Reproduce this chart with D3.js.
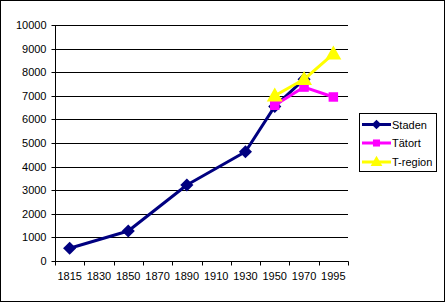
<!DOCTYPE html>
<html><head><meta charset="utf-8">
<script src="https://cdn.jsdelivr.net/npm/d3@7"></script>
<style>body{margin:0;background:#fff}svg{display:block}text{font-family:"Liberation Sans",Arial,sans-serif;fill:#000}</style>
</head><body><svg id="c" width="446" height="303"></svg>
<script>
const categories = ["1815","1830","1850","1870","1890","1910","1930","1950","1970","1995"];
const staden  = [540, null, 1270, null, 3220, null, 4630, 6550, 7700, null];
const tatort  = [null, null, null, null, null, null, null, 6600, 7370, 6950];
const tregion = [null, null, null, null, null, null, null, 7000, 7700, 8780];
const yTicks = [0,1000,2000,3000,4000,5000,6000,7000,8000,9000,10000];
const seriesNames = ["Staden","Tätort","T-region"];
const seriesColors = ["#000080","#FF00FF","#FFFF00"];
const seriesSymbols = [d3.symbolDiamond2, d3.symbolSquare, d3.symbolTriangle];

const svg = d3.select("#c");
svg.append("rect").attr("x",0.5).attr("y",0.5).attr("width",444).attr("height",301)
  .attr("fill","#fff").attr("stroke","#000").attr("stroke-width",1);

const L=55, R=348, T=25, B=261;
const x = d3.scaleBand().domain(categories).range([L,R]);
const y = d3.scaleLinear().domain([0,10000]).range([B,T]);

// gridlines
svg.append("g").selectAll("line").data(yTicks.filter(v=>v>0)).join("line")
  .attr("x1",L).attr("x2",R).attr("y1",d=>Math.round(y(d))+0.5).attr("y2",d=>Math.round(y(d))+0.5)
  .attr("stroke","#000").attr("stroke-width",1);

// y axis
const ya = svg.append("g").attr("transform",`translate(${L+0.5},0)`)
  .call(d3.axisLeft(y).tickValues(yTicks).tickSize(4).tickPadding(5).tickFormat(d3.format("d")));
ya.selectAll("path,line").attr("stroke","#000");
ya.select("path").attr("d",`M0,${T}V${B+0.5}`);
ya.selectAll("text").style("font-size","11px").attr("font-family",null);
ya.selectAll(".tick").attr("transform",d=>`translate(0,${Math.round(y(d))+0.5})`);

// x axis
const xa = svg.append("g").attr("transform",`translate(0,${B+0.5})`);
xa.append("line").attr("x1",L).attr("x2",R+0.5).attr("stroke","#000");
const bounds = categories.map((c,i)=>x(c)).concat([R]);
xa.selectAll(".tk").data(bounds).join("line").attr("class","tk")
  .attr("x1",d=>Math.round(d)+0.5).attr("x2",d=>Math.round(d)+0.5).attr("y1",0).attr("y2",4).attr("stroke","#000");
xa.selectAll("text").data(categories).join("text")
  .attr("x",d=>x(d)+x.bandwidth()/2).attr("y",18).attr("text-anchor","middle")
  .style("font-size","11px").text(d=>d);

const cx = c => x(c)+x.bandwidth()/2;
const all = [staden, tatort, tregion];
all.forEach((vals,si)=>{
  const pts = categories.map((c,i)=>({c,v:vals[i]})).filter(p=>p.v!=null);
  const line = d3.line().x(p=>cx(p.c)).y(p=>y(p.v));
  const g = svg.append("g");
  g.append("path").attr("d",line(pts)).attr("fill","none").attr("stroke",seriesColors[si]).attr("stroke-width",3).attr("stroke-linejoin","round");
  const sz = si===0?110:(si===1?90:110);
  g.selectAll("path.m").data(pts).join("path").attr("class","m")
    .attr("d",d3.symbol(seriesSymbols[si],sz)).attr("transform",p=>`translate(${cx(p.c)},${y(p.v)+(si===2?1:0)})`)
    .attr("fill",seriesColors[si]);
});

// legend
const lg = svg.append("g");
lg.append("rect").attr("x",359.5).attr("y",113.5).attr("width",77).attr("height",58).attr("fill","#fff").attr("stroke","#000");
const ly = [124.5,143,162];
seriesNames.forEach((n,i)=>{
  lg.append("line").attr("x1",362).attr("x2",391).attr("y1",ly[i]).attr("y2",ly[i]).attr("stroke",seriesColors[i]).attr("stroke-width",3);
  lg.append("path").attr("d",d3.symbol(seriesSymbols[i],i===0?60:(i===1?50:60))).attr("transform",`translate(376.5,${ly[i]+(i===2?0.5:0)})`).attr("fill",seriesColors[i]);
  lg.append("text").attr("x",392).attr("y",ly[i]+4).style("font-size","11px").text(n);
});
</script></body></html>
